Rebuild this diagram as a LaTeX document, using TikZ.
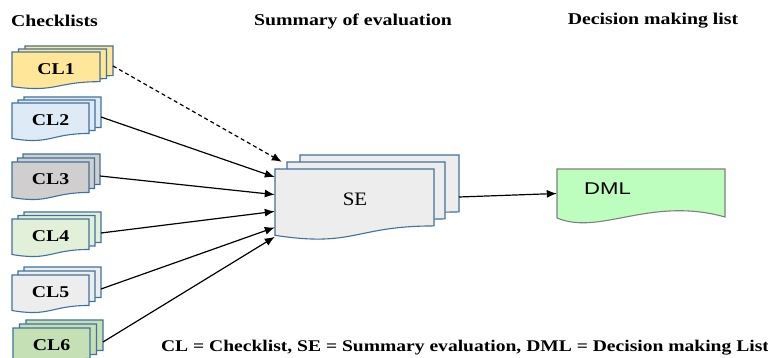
\documentclass[tikz,border=0pt]{standalone}
\usepackage{fontspec}
\usepackage{graphicx}
\setmainfont{Liberation Serif}
\newfontfamily\dmlfont{Liberation Sans}
\usetikzlibrary{arrows.meta}

\definecolor{pageedge}{HTML}{41719C}
\definecolor{clyellow}{HTML}{FFE699}
\definecolor{clblue}{HTML}{DEEBF7}
\definecolor{clgray}{HTML}{D0CECE}
\definecolor{clgreen}{HTML}{E2F0D9}
\definecolor{cllight}{HTML}{EDEDED}
\definecolor{cldark}{HTML}{C5E0B4}
\definecolor{dmlfill}{HTML}{BDFDBD}

% text is a little wider than the font
\newcommand{\wide}[1]{\scalebox{1.2}[1]{#1}}

% one page with a wavy lower edge: fill, x, y, width, height
\newcommand{\docpage}[5]{%
  \filldraw[page, fill=#1] (#2,#3) -- ++(#4,0) -- ++(0,{0.802*#5})
    .. controls ({#2+0.5*#4},{#3+0.802*#5}) and ({#2+0.5*#4},{#3+1.1075*#5}) .. (#2,{#3+0.934*#5}) -- cycle;}

% three pages: name, fill, x, y, width, height, dx, dy, text
\newcommand{\clstack}[9]{%
  \docpage{#2}{#3+2*#7}{#4+2*#8}{#5}{#6}
  \docpage{#2}{#3+#7}{#4+#8}{#5}{#6}
  \docpage{#2}{#3}{#4}{#5}{#6}
  \node[cltext] (#1) at ({#3+#5/2},{#4+0.46*#6}) {\wide{#9}};
  \coordinate (#1-out) at ({#3+#5+2*#7},{#4+14});}

\tikzset{
  page/.style={draw=pageedge, line width=1.1pt},
  cltext/.style={font=\bfseries\fontsize{16.5}{18}\selectfont, inner sep=0pt},
  head/.style={font=\bfseries\fontsize{16.5}{18}\selectfont, inner sep=0pt},
  flow/.style={line width=1.2pt, -{Latex[length=10pt,width=8pt]}},
}

\begin{document}
\begin{tikzpicture}[x=1pt,y=-1pt]
  \clip (0,0) rectangle (768,358);
  \fill[white] (0,0) rectangle (768,358);

  % headings
  \node[head] (head-cl) at (54.5,21) {\wide{Checklists}};
  \node[head] (head-se) at (353,21) {\wide{Summary of evaluation}};
  \node[head] (head-dml) at (653,21) {\wide{Decision making list}};

  % checklists
  \clstack{cl1}{clyellow}{12}{52}{88}{37}{6.5}{-3}{CL1}
  \clstack{cl2}{clblue}{12}{103}{77}{38}{6}{-3}{CL2}
  \clstack{cl3}{clgray}{12}{162}{77}{38}{5.5}{-4}{CL3}
  \clstack{cl4}{clgreen}{12}{219}{77}{38}{6}{-3.5}{CL4}
  \clstack{cl5}{cllight}{12}{275}{77}{38}{6}{-4}{CL5}
  \clstack{cl6}{cldark}{13}{328}{77}{38}{6.5}{-4}{CL6}

  % summary of evaluation
  \docpage{cllight}{300}{155}{159}{71}
  \docpage{cllight}{287}{162}{158}{71}
  \docpage{cllight}{275}{169}{159}{71}
  \node[minimum width=159pt, minimum height=68pt, inner sep=0pt] (se) at (354.5,203) {};
  \node[font=\fontsize{19}{22}\selectfont, inner sep=0pt] (se-text) at (355,199) {\scalebox{1.1}[1]{SE}};
  \coordinate (se-out) at (459,197);

  % decision making list
  \filldraw[draw=gray, line width=1.1pt, fill=dmlfill] (557,169) -- (725,169) -- (725,217)
    .. controls (650,196) and (600,236) .. (557,218) -- cycle;
  \node[minimum width=168pt, minimum height=49pt, inner sep=0pt] (dml) at (641,193.5) {};
  \node[font=\dmlfont\fontsize{17}{19}\selectfont, inner sep=0pt] (dml-text) at (607.5,189) {\scalebox{1.3}[1]{DML}};

  % connectors
  \draw[flow, dash pattern=on 4pt off 3pt] (cl1-out) -- ([xshift=7pt,yshift=7pt]se.north west);
  \draw[flow] (cl2-out) -- (se.162.5);
  \draw[flow] (cl3-out) -- (se.174.3);
  \draw[flow] (cl4-out) -- (se.186.5);
  \draw[flow] (cl5-out) -- (se.197.5);
  \draw[flow] (cl6-out) -- (se.203);
  \draw[flow] (se-out) -- (dml.west);

  % legend
  \node[head, font=\bfseries\fontsize{16.3}{18}\selectfont] (legend) at (465,348) {\wide{CL = Checklist, SE = Summary evaluation, DML = Decision making List}};
\end{tikzpicture}
\end{document}
